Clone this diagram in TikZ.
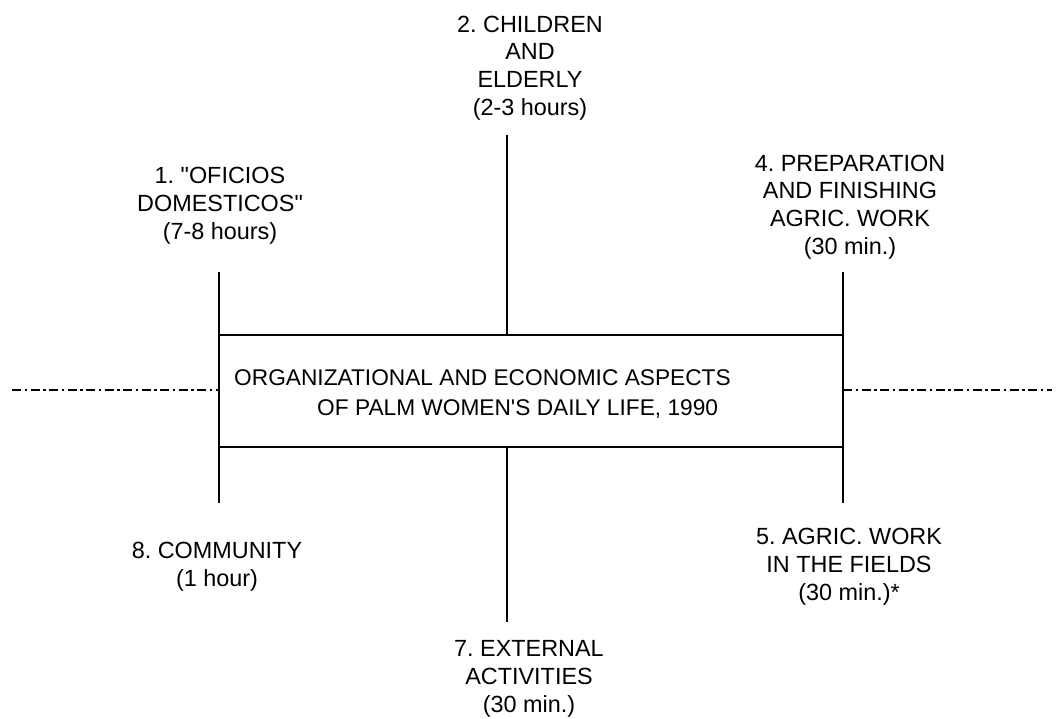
\documentclass[tikz,border=0pt]{standalone}
\usepackage{fontspec}
\setmainfont{Liberation Sans}
\frenchspacing
\begin{document}
\begin{tikzpicture}[x=1pt,y=-1pt,
  solid line/.style={line width=2pt},
  dashdot line/.style={line width=1.6pt,dash pattern=on 9pt off 3.5pt on 2.5pt off 3.5pt},
  label/.style={align=center,anchor=base,inner sep=0pt,font=\fontsize{23.4}{27.6}\selectfont},
  titlebox/.style={draw,line width=2pt,minimum width=624pt,minimum height=112pt,inner sep=0pt}]
\useasboundingbox (0,0) rectangle (1060,718);
% central box
\node[titlebox] (box) at (531,391) {};
\node[anchor=base west,inner sep=0pt,align=left,font=\fontsize{22.7}{29.4}\selectfont] (title) at (234,415)
  {ORGANIZATIONAL AND ECONOMIC ASPECTS\\\hspace*{83pt}OF PALM WOMEN\textquotesingle S DAILY LIFE, 1990};
% labels (anchored at the baseline of their last line)
\node[label] (l2) at (530,115) {2. CHILDREN\\AND\\ELDERLY\\(2-3 hours)};
\node[label] (l1) at (220,239) {1. \textquotedbl OFICIOS\\DOMESTICOS\textquotedbl\\(7-8 hours)};
\node[label] (l4) at (850,254) {4. PREPARATION\\AND FINISHING\\AGRIC. WORK\\(30 min.)};
\node[label] (l8) at (217,586) {8. COMMUNITY\\(1 hour)};
\node[label] (l5) at (849,600) {5. AGRIC. WORK\\IN THE FIELDS\\(30 min.)*};
\node[label] (l7) at (529,712) {7. EXTERNAL\\ACTIVITIES\\(30 min.)};
% coordinates for free line ends
\coordinate (lt) at (219,272);
\coordinate (lb) at (219,503);
\coordinate (rt) at (843,272);
\coordinate (rb) at (843,503);
\coordinate (mt) at (507,135);
\coordinate (mb) at (507,622);
\coordinate (mbt) at (507,335);
\coordinate (mbb) at (507,447);
\coordinate (dl) at (12,390);
\coordinate (dlb) at (219,390);
\coordinate (dr) at (1052,390);
\coordinate (drb) at (843,390);
% connectors
\draw[solid line] (lt) -- (lb);
\draw[solid line] (rt) -- (rb);
\draw[solid line] (mt) -- (mbt);
\draw[solid line] (mbb) -- (mb);
\draw[dashdot line] (dl) -- (dlb);
\draw[dashdot line] (drb) -- (dr);
\end{tikzpicture}
\end{document}
